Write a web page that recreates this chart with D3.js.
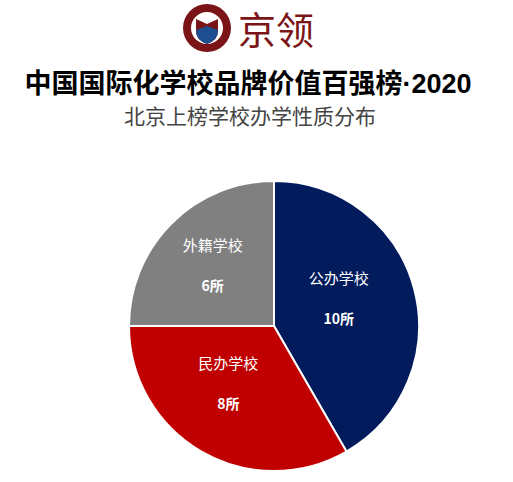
<!DOCTYPE html>
<html>
<head>
<script src="https://cdn.jsdelivr.net/npm/d3@7"></script>
<style>body{margin:0;background:#fff;}</style>
</head>
<body>
<div id="viz"></div>
<script>
// data
var categories = ["公办学校", "民办学校", "外籍学校"];
var values = [10, 8, 6];
var valueLabels = ["10所", "8所", "6所"];
var colors = ["#011b5c", "#c00000", "#808080"];

var width = 513, height = 482;
var svg = d3.select("#viz").append("svg").attr("width", width).attr("height", height);

// logo
var logo = svg.append("g").attr("transform", "translate(207,28)");
logo.append("circle").attr("r", 24).attr("fill", "#7b1416");
logo.append("circle").attr("r", 16).attr("fill", "#fff");
logo.append("path").attr("d", "M-11,-9 L0,-4 L11,-9 L11,3 Q11,12 0,16 Q-11,12 -11,3 Z").attr("fill", "#7b1416");
logo.append("path").attr("d", "M-11,2 L0,-2 L11,2 L11,3 Q11,12 0,16 Q-11,12 -11,3 Z").attr("fill", "#1d4e8f");
svg.append("text").attr("x", 238).attr("y", 44).attr("font-size", 38)
    .attr("font-family", "Noto Sans CJK SC").attr("fill", "#7b1416").text("京领");

var title = svg.append("text").attr("x", 248).attr("y", 93).attr("text-anchor", "middle")
    .attr("font-size", 27).attr("font-weight", "bold").attr("font-family", "Noto Sans CJK SC");
title.append("tspan").text("中国国际化学校品牌价值百强榜");
title.append("tspan").attr("font-family", "Liberation Sans").text("·2020");
svg.append("text").attr("x", 250).attr("y", 124).attr("text-anchor", "middle")
    .attr("font-size", 21).attr("fill", "#444").attr("font-family", "Noto Sans CJK SC")
    .text("北京上榜学校办学性质分布");

var cx = 274, cy = 326, r = 145;
var pie = d3.pie().sort(null).value(function(d) { return d; });
var arc = d3.arc().innerRadius(0).outerRadius(r);
var labelArc = d3.arc().innerRadius(r * 0.52).outerRadius(r * 0.52);
var g = svg.append("g").attr("transform", "translate(" + cx + "," + cy + ")");
var arcs = pie(values);

g.selectAll("path").data(arcs).enter().append("path")
    .attr("d", arc).attr("fill", function(d, i) { return colors[i]; })
    .attr("stroke", "#fff").attr("stroke-width", 2);

g.selectAll("text.cat").data(arcs).enter().append("text")
    .attr("class", "cat")
    .attr("transform", function(d) { var c = labelArc.centroid(d); return "translate(" + (c[0] - 8) + "," + (c[1] - 22) + ")"; })
    .attr("text-anchor", "middle").attr("fill", "#fff").attr("font-size", 15)
    .attr("font-family", "Noto Sans CJK SC")
    .text(function(d, i) { return categories[i]; });

g.selectAll("text.val").data(arcs).enter().append("text")
    .attr("class", "val")
    .attr("transform", function(d) { var c = labelArc.centroid(d); return "translate(" + (c[0] - 8) + "," + (c[1] + 18) + ")"; })
    .attr("text-anchor", "middle").attr("fill", "#fff").attr("font-size", 14).attr("font-weight", "bold")
    .attr("font-family", "Noto Sans CJK SC")
    .text(function(d, i) { return valueLabels[i]; });
</script>
</body>
</html>
